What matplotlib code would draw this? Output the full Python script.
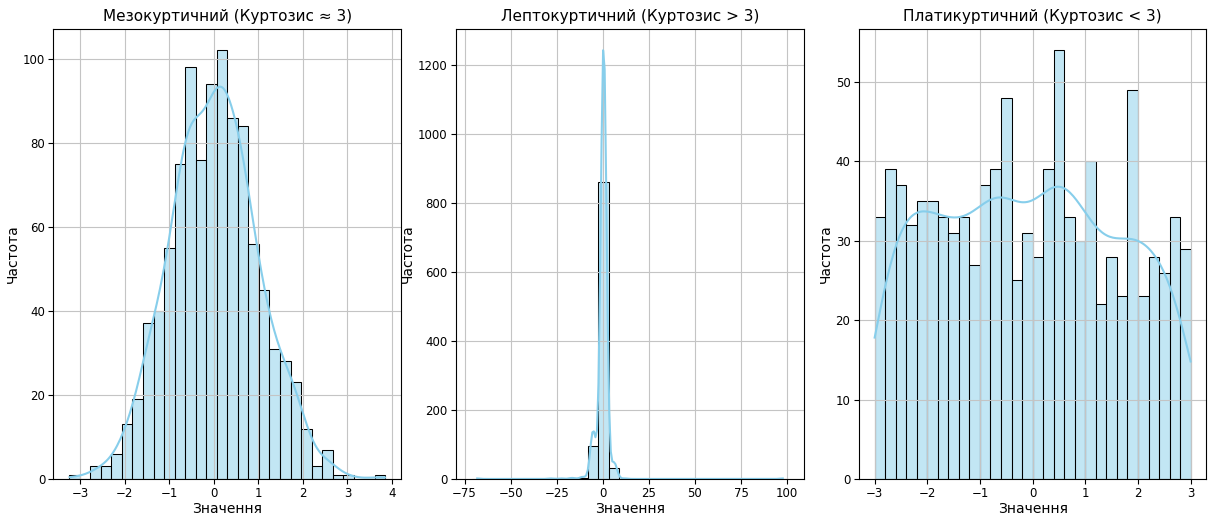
import numpy as np
import matplotlib
matplotlib.use("Agg")
import matplotlib.pyplot as plt
import seaborn as sns

# --- гістограми: межі бінів і частоти (30 бінів у кожній) ---

# мезокуртичний: нормальний розподіл
meso_edges = np.linspace(-3.24, 3.85, 31)
meso_counts = [1, 0, 3, 3, 6, 13, 19, 37, 40, 55,
               75, 98, 76, 94, 102, 86, 84, 56, 45, 31,
               28, 23, 12, 3, 7, 1, 1, 0, 0, 1]

# лептокуртичний: важкі хвости
lepto_edges = np.linspace(-71.0, 100.5, 31)
lepto_counts = [1, 0, 0, 0, 0, 0, 0, 1, 1, 2,
                4, 95, 862, 32, 1, 0, 0, 0, 0, 0,
                0, 0, 0, 0, 0, 0, 0, 0, 0, 1]

# платикуртичний: рівномірний розподіл
platy_edges = np.linspace(-3.0, 3.0, 31)
platy_counts = [33, 39, 37, 32, 35, 35, 33, 31, 33, 27,
                37, 39, 48, 25, 31, 28, 39, 54, 33, 30,
                40, 22, 28, 23, 49, 23, 28, 26, 33, 29]

titles = ["Мезокуртичний (Куртозис ≈ 3)",
          "Лептокуртичний (Куртозис > 3)",
          "Платикуртичний (Куртозис < 3)"]

# налаштування KDE для кожної панелі
kde_opts = [dict(cut=0.45), dict(cut=0, bw_adjust=1.36), dict(cut=0.23)]


def vybirka(edges, counts):
    # кожен бін -> його центр, повторений стільки разів, скільки значень у біні
    centers = (edges[:-1] + edges[1:]) / 2
    return np.repeat(centers, counts)


fig, axes = plt.subplots(1, 3, figsize=(12.15, 5.15), dpi=100)
fig.subplots_adjust(left=0.044, right=0.993, bottom=0.07, top=0.944, wspace=0.158)

dani = [(meso_edges, meso_counts), (lepto_edges, lepto_counts),
        (platy_edges, platy_counts)]

for ax, (edges, counts), title, kk in zip(axes, dani, titles, kde_opts):
    sns.histplot(x=vybirka(edges, counts), bins=edges, kde=True,
                 color="skyblue", edgecolor="black", kde_kws=kk, ax=ax)
    ax.set_title(title, fontsize=11)
    ax.set_xlabel("Значення", fontsize=10, labelpad=1)
    ax.set_ylabel("Частота", fontsize=10, labelpad=2)
    ax.tick_params(labelsize=8.5, pad=2.5)
    ax.grid(True, color="#c4c4c4")

axes[0].set_xticks(range(-3, 5))
axes[2].set_xticks(range(-3, 4))

fig.savefig("out.png", dpi=100)
